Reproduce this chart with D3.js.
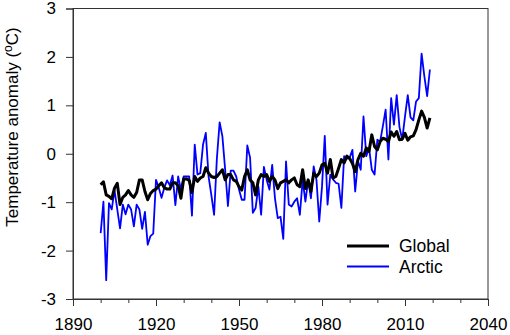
<!DOCTYPE html>
<html>
<head>
<meta charset="utf-8">
<script src="https://cdn.jsdelivr.net/npm/d3@7"></script>
<style>
  html, body { margin: 0; padding: 0; background: #fff; }
  svg { display: block; font-family: "Liberation Sans", Arial, sans-serif; }
</style>
</head>
<body>
<svg id="chart" width="510" height="335"></svg>
<script>
const startYear = 1900;
const arctic = [
  -1.64, -0.99, -2.61, -1.02, -1.15, -0.75, -1.15, -1.54, -1.05, -1.25,
  -1.05, -1.15, -1.50, -1.05, -1.15, -1.55, -1.20, -1.88, -1.70, -1.65,
  -0.54, -0.70, -0.91, -0.70, -0.55, -0.65, -0.45, -1.06, -0.47, -0.74,
  -0.47, -0.47, -0.47, -1.28, 0.19, -0.43, -0.40, 0.19, 0.43, -0.47,
  -0.85, -1.26, -0.10, 0.65, 0.36, -0.33, -1.08, -0.35, -0.35, -0.47,
  -0.74, -0.95, -0.95, 0.17, -0.08, -1.22, -1.12, -0.68, -1.26, -0.27,
  -0.54, -0.74, -0.23, -0.92, -1.33, -1.30, -1.76, -0.16, -1.05, -1.09,
  -0.99, -0.92, -1.26, -0.54, -0.99, -0.54, -0.92, -0.26, -0.54, -1.40,
  -0.68, 0.37, -1.05, -0.43, -0.53, -0.60, -0.62, -1.12, -0.05, -0.10,
  -0.08, 0.08, -0.78, -0.15, -0.33, 0.77, -0.05, 0.12, -0.33, -0.43,
  0.29, 0.25, 0.57, 0.91, -0.12, 1.15, 0.60, 1.21, 0.55, 0.29,
  0.77, 1.21, 0.75, 0.69, 1.08, 1.15, 2.07, 1.60, 1.19, 1.74
];
const globalT = [
  -0.64, -0.58, -0.85, -0.88, -0.93, -0.71, -0.61, -1.05, -0.90, -0.85,
  -0.76, -0.85, -0.90, -0.80, -0.54, -0.54, -0.78, -0.95, -0.82, -0.76,
  -0.73, -0.66, -0.60, -0.70, -0.73, -0.73, -0.60, -0.60, -0.66, -0.92,
  -0.52, -0.52, -0.55, -0.80, -0.47, -0.57, -0.50, -0.47, -0.29, -0.40,
  -0.47, -0.49, -0.47, -0.40, -0.33, -0.54, -0.43, -0.43, -0.54, -0.57,
  -0.68, -0.75, -0.47, -0.33, -0.54, -0.60, -0.85, -0.54, -0.43, -0.47,
  -0.43, -0.57, -0.47, -0.54, -0.72, -0.60, -0.57, -0.54, -0.60, -0.54,
  -0.50, -0.64, -0.68, -0.33, -0.72, -0.54, -0.78, -0.40, -0.47, -0.40,
  -0.23, -0.20, -0.40, -0.12, -0.50, -0.47, -0.30, -0.12, -0.19, -0.05,
  -0.10, -0.20, -0.37, -0.12, 0.01, -0.05, 0.12, 0.05, 0.39, 0.15,
  0.08, 0.25, 0.32, 0.30, 0.25, 0.45, 0.36, 0.46, 0.29, 0.30,
  0.42, 0.28, 0.35, 0.37, 0.50, 0.70, 0.88, 0.75, 0.53, 0.74
];
const xTicks = [1890, 1920, 1950, 1980, 2010, 2040];
const xMinorTicks = [1900, 1910, 1930, 1940, 1960, 1970, 1990, 2000, 2020, 2030];
const yTicks = [-3, -2, -1, 0, 1, 2, 3];
const seriesNames = ["Global", "Arctic"];
const seriesColors = ["#000000", "#0000ff"];

const svg = d3.select("#chart");
const L = 73, R = 488, T = 8.5, B = 299;
const x = d3.scaleLinear().domain([1890, 2040]).range([L, R]);
const y = d3.scaleLinear().domain([-3, 3]).range([B, T]);
const axisColor = "#333";

// frame
svg.append("rect").attr("x", L).attr("y", T).attr("width", R - L).attr("height", B - T)
  .attr("fill", "none").attr("stroke", axisColor).attr("stroke-width", 1);

// x axis
svg.append("g").attr("transform", `translate(0,${B})`)
  .call(d3.axisBottom(x).tickValues(xTicks).tickFormat(d3.format("d")).tickSize(7).tickPadding(12));
svg.append("g").attr("transform", `translate(0,${B})`)
  .call(d3.axisBottom(x).tickValues(xMinorTicks).tickFormat("").tickSize(4))
  .call(g => g.select(".domain").remove());
// y axis
svg.append("g").attr("transform", `translate(${L},0)`)
  .call(d3.axisLeft(y).tickValues(yTicks).tickFormat(d => d < 0 ? "-" + Math.abs(d) : d).tickSize(7).tickPadding(10));
svg.selectAll(".domain").attr("stroke", axisColor);
svg.selectAll(".tick line").attr("stroke", axisColor);
svg.selectAll(".tick text").attr("font-size", 17).attr("fill", "#000")
  .attr("font-family", "'Liberation Sans', Arial, sans-serif");

// y title
const yt = svg.append("text")
  .attr("transform", `translate(18,127) rotate(-90)`)
  .attr("text-anchor", "middle").attr("font-size", 17).attr("fill", "#000");
yt.append("tspan").text("Temperature anomaly (");
yt.append("tspan").attr("font-size", 12).attr("dy", -6).text("o");
yt.append("tspan").attr("dy", 6).text("C)");

// lines
const line = d3.line().x((d, i) => x(startYear + i)).y(d => y(d));
svg.append("path").datum(arctic).attr("d", line)
  .attr("fill", "none").attr("stroke", seriesColors[1]).attr("stroke-width", 1.8)
  .attr("stroke-linejoin", "round");
svg.append("path").datum(globalT).attr("d", line)
  .attr("fill", "none").attr("stroke", seriesColors[0]).attr("stroke-width", 3)
  .attr("stroke-linejoin", "round");

// legend
const lg = svg.append("g");
seriesNames.forEach((name, i) => {
  const yy = 246 + i * 20.5;
  lg.append("line").attr("x1", 347).attr("x2", 389).attr("y1", yy).attr("y2", yy)
    .attr("stroke", seriesColors[i]).attr("stroke-width", i === 0 ? 3 : 1.8);
  lg.append("text").attr("x", 399).attr("y", yy + 6).attr("font-size", 17.5).attr("fill", "#000").text(name);
});
</script>
</body>
</html>
